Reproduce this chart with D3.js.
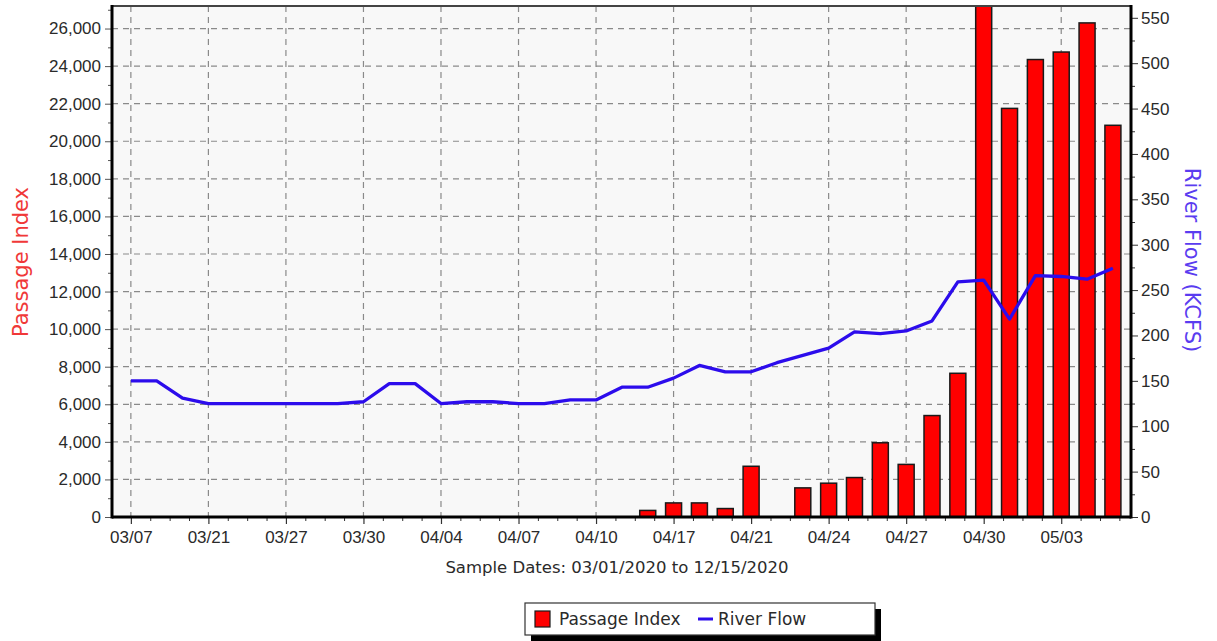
<!DOCTYPE html>
<html>
<head>
<meta charset="utf-8">
<script src="https://d3js.org/d3.v7.min.js"></script>
<style>
  body { margin: 0; background: #fff; }
  svg { display: block; font-family: "DejaVu Sans", Verdana, sans-serif; }
  .tick text { fill: #2a2a2a; font-size: 17px; }
</style>
</head>
<body>
<div id="chart"></div>
<script>
// one sample per day slot, index 0..38
const tickLabels = ['03/07', '03/21', '03/27', '03/30', '04/04', '04/07', '04/10',
                    '04/17', '04/21', '04/24', '04/27', '04/30', '05/03'];
const passageIndex = [0, 0, 0, 0, 0, 0, 0, 0, 0, 0,
                      0, 0, 0, 0, 0, 0, 0, 0, 0, 0,
                      350, 750, 750, 450, 2700, 0, 1550, 1800, 2100, 3950,
                      2800, 5400, 7650, 27300, 21750, 24350, 24750, 26300, 20850];
const riverFlow = [150, 150, 131, 125, 125, 125, 125, 125, 125, 127,
                   147, 147, 125, 127, 127, 125, 125, 129, 129, 143,
                   143, 153, 167, 160, 160, 170, 178, 186, 204, 202,
                   205, 216, 259, 261, 218, 266, 265, 262, 274];

const W = 1217, H = 641;
const L = 112, R = 1131, T = 6, B = 517;

const svg = d3.select('#chart').append('svg')
    .attr('width', W)
    .attr('height', H);

const x = d3.scaleLinear().domain([-0.73, 38.7]).range([L, R]);
const yL = d3.scaleLinear().domain([0, 27200]).range([B, T]);
const yR = d3.scaleLinear().domain([0, 563]).range([B, T]);

svg.append('defs').append('clipPath').attr('id', 'plot-clip')
    .append('rect').attr('x', L).attr('y', T).attr('width', R - L).attr('height', B - T);

// plot background
svg.append('rect')
    .attr('x', L).attr('y', T)
    .attr('width', R - L).attr('height', B - T)
    .attr('fill', '#f8f8f8');

const majorX = d3.range(0, 37, 3);
const leftTicks = d3.range(0, 26001, 2000);

// grid
const grid = svg.append('g').attr('stroke', '#8a8a8a').attr('stroke-width', 1.2)
    .attr('stroke-dasharray', '6,5');
grid.selectAll('.hg').data(leftTicks.slice(1)).enter().append('line')
    .attr('x1', L).attr('x2', R)
    .attr('y1', d => yL(d)).attr('y2', d => yL(d));
grid.selectAll('.vg').data(majorX).enter().append('line')
    .attr('y1', T).attr('y2', B)
    .attr('x1', d => x(d)).attr('x2', d => x(d));

// bars
const bars = passageIndex.map((v, i) => ({ i: i, v: v })).filter(d => d.v > 0);
svg.append('g').attr('clip-path', 'url(#plot-clip)')
    .selectAll('rect')
    .data(bars)
    .enter()
    .append('rect')
    .attr('x', d => x(d.i) - 8)
    .attr('width', 16)
    .attr('y', d => yL(d.v))
    .attr('height', d => B - yL(d.v))
    .attr('fill', '#ff0000')
    .attr('stroke', '#1a1a1a')
    .attr('stroke-width', 1.5);

// river flow line
const line = d3.line()
    .x((d, i) => x(i))
    .y(d => yR(d));
svg.append('path')
    .datum(riverFlow)
    .attr('d', line)
    .attr('fill', 'none')
    .attr('stroke', '#2c0cec')
    .attr('stroke-width', 3.3)
    .attr('stroke-linejoin', 'round');

// x axis
const xAxis = d3.axisBottom(x)
    .tickValues(majorX)
    .tickFormat((d, i) => tickLabels[i])
    .tickSize(7)
    .tickPadding(7);
const gx = svg.append('g')
    .attr('transform', 'translate(0,' + B + ')')
    .call(xAxis);
gx.select('.domain').remove();
gx.selectAll('.tick line').attr('stroke', '#333').attr('stroke-width', 1.2);

const minorX = [];
for (let k = 0; k < 39; k += 0.75) {
    if (k % 3 !== 0) minorX.push(k);
}
const gxm = svg.append('g')
    .attr('transform', 'translate(0,' + B + ')')
    .call(d3.axisBottom(x).tickValues(minorX.filter(d => x(d) < R - 2)).tickSize(4).tickFormat(''));
gxm.select('.domain').remove();
gxm.selectAll('.tick line').attr('stroke', '#333');

// left axis
const gl = svg.append('g')
    .attr('transform', 'translate(' + L + ',0)')
    .call(d3.axisLeft(yL).tickValues(leftTicks).tickFormat(d3.format(',')).tickSize(7).tickPadding(4));
gl.select('.domain').remove();
gl.selectAll('.tick line').attr('stroke', '#555');
const glm = svg.append('g')
    .attr('transform', 'translate(' + L + ',0)')
    .call(d3.axisLeft(yL).tickValues(d3.range(1000, 27001, 2000)).tickSize(4).tickFormat(''));
glm.select('.domain').remove();
glm.selectAll('.tick line').attr('stroke', '#555');

// right axis
const gr = svg.append('g')
    .attr('transform', 'translate(' + R + ',0)')
    .call(d3.axisRight(yR).tickValues(d3.range(0, 551, 50)).tickSize(7).tickPadding(3));
gr.select('.domain').remove();
gr.selectAll('.tick line').attr('stroke', '#333');
const grm = svg.append('g')
    .attr('transform', 'translate(' + R + ',0)')
    .call(d3.axisRight(yR).tickValues(d3.range(25, 560, 50)).tickSize(4).tickFormat(''));
grm.select('.domain').remove();
grm.selectAll('.tick line').attr('stroke', '#333');

// frame
svg.append('line').attr('x1', L - 1).attr('x2', R + 1).attr('y1', T).attr('y2', T)
    .attr('stroke', '#444').attr('stroke-width', 2);
svg.append('line').attr('x1', L).attr('x2', L).attr('y1', T - 1).attr('y2', B + 1.5)
    .attr('stroke', '#000').attr('stroke-width', 3);
svg.append('line').attr('x1', R).attr('x2', R).attr('y1', T - 1).attr('y2', B + 1.5)
    .attr('stroke', '#000').attr('stroke-width', 3);
svg.append('line').attr('x1', L).attr('x2', R).attr('y1', B).attr('y2', B)
    .attr('stroke', '#000').attr('stroke-width', 3);

// axis titles
svg.append('text')
    .attr('transform', 'translate(28,' + 262 + ') rotate(-90)')
    .attr('text-anchor', 'middle')
    .attr('font-size', 21)
    .attr('fill', '#f03838')
    .text('Passage Index');
svg.append('text')
    .attr('transform', 'translate(1185,' + 260 + ') rotate(90)')
    .attr('text-anchor', 'middle')
    .attr('font-size', 21)
    .attr('fill', '#5a3cf0')
    .text('River Flow (KCFS)');
svg.append('text')
    .attr('x', 617).attr('y', 573)
    .attr('text-anchor', 'middle')
    .attr('font-size', 16.5)
    .attr('fill', '#2a2a2a')
    .text('Sample Dates: 03/01/2020 to 12/15/2020');

// legend
const lg = svg.append('g').attr('transform', 'translate(525,603)');
lg.append('rect').attr('x', 6).attr('y', 6).attr('width', 350).attr('height', 32).attr('fill', '#000');
lg.append('rect').attr('x', 0).attr('y', 0).attr('width', 350).attr('height', 32)
    .attr('fill', '#fff').attr('stroke', '#333').attr('stroke-width', 1.2);
lg.append('rect').attr('x', 10).attr('y', 8).attr('width', 15).attr('height', 16)
    .attr('fill', '#ff0000').attr('stroke', '#1a1a1a').attr('stroke-width', 1.2);
lg.append('text').attr('x', 34).attr('y', 22).attr('font-size', 17).attr('fill', '#2a2a2a')
    .text('Passage Index');
lg.append('line').attr('x1', 173).attr('x2', 188).attr('y1', 16).attr('y2', 16)
    .attr('stroke', '#2c0cec').attr('stroke-width', 3);
lg.append('text').attr('x', 193).attr('y', 22).attr('font-size', 17).attr('fill', '#2a2a2a')
    .text('River Flow');
</script>
</body>
</html>
